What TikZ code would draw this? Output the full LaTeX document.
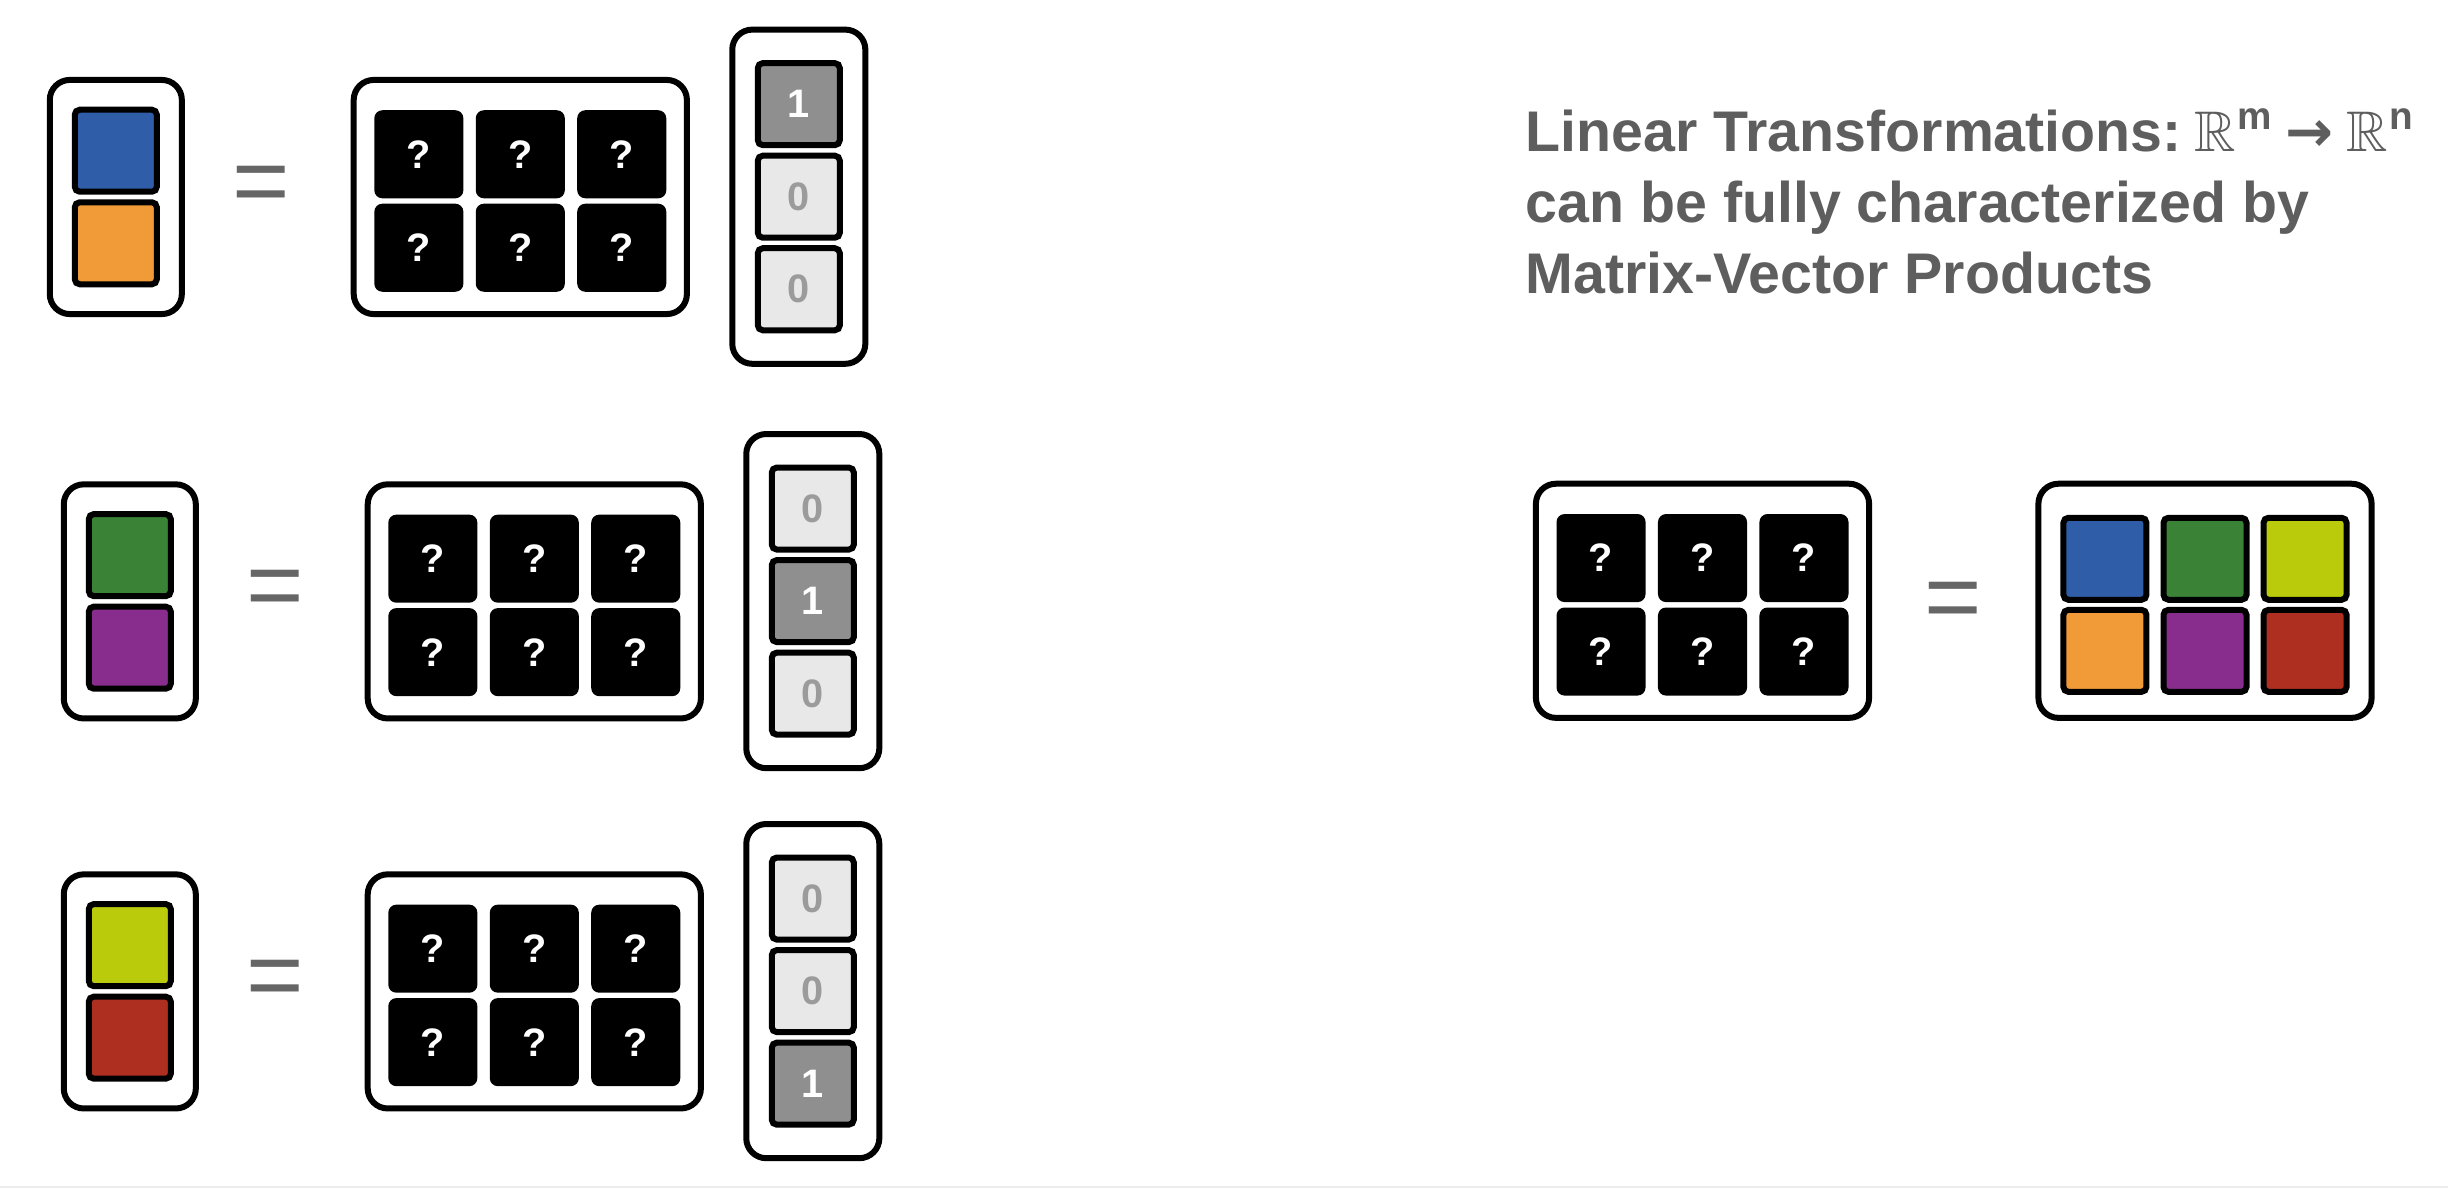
\documentclass[tikz,border=0pt]{standalone}
\usepackage{fontspec}
\usepackage{amssymb}
\setmainfont{Liberation Sans}
\newfontfamily\arrowfont{DejaVu Sans}
\usetikzlibrary{positioning}

\definecolor{cblue}{HTML}{2F5DA8}
\definecolor{corange}{HTML}{F09A38}
\definecolor{cgreen}{HTML}{3A8336}
\definecolor{cpurple}{HTML}{882D8E}
\definecolor{clime}{HTML}{BACB0C}
\definecolor{cred}{HTML}{AE2F1F}
\definecolor{onegray}{HTML}{8F8F8F}
\definecolor{zerogray}{HTML}{E8E8E8}
\definecolor{zerotext}{HTML}{9B9B9B}
\definecolor{eqgray}{HTML}{666666}
\definecolor{titlegray}{HTML}{5E5E5E}
\definecolor{rulegray}{HTML}{ECECEC}

\newcommand{\spacesup}[1]{\raisebox{6.2pt}{\fontsize{11}{11}\selectfont #1}}

\begin{document}
\begin{tikzpicture}[
      x=0.01cm, y=-0.01cm,
      frame/.style={draw,line width=0.06cm,rounded corners=0.2cm,fill=white},
      vecframe/.style={frame,minimum width=1.32cm,minimum height=2.34cm},
      matframe/.style={frame,minimum width=3.33cm,minimum height=2.34cm},
      unitframe/.style={frame,minimum width=1.33cm,minimum height=3.34cm},
      cellfont/.style={font=\fontsize{11.3}{12}\selectfont\bfseries},
      qcell/.style={cellfont,fill=black,rounded corners=0.08cm,minimum width=0.89cm,minimum height=0.88cm,inner sep=0pt,text=white},
      colcell/.style={draw,line width=0.06cm,rounded corners=0.05cm,minimum width=0.82cm,minimum height=0.82cm,inner sep=0pt,fill=#1},
      onecell/.style={colcell=onegray,cellfont,text=white},
      zerocell/.style={colcell=zerogray,cellfont,text=zerotext},
      equal/.style={text=eqgray,font=\fontsize{28}{28}\selectfont,inner sep=0pt},
      node distance=0.045cm]
      \path[fill=white,use as bounding box] (0,0) rectangle (2448,1188);

      % Row 1
      \node[vecframe]                                       (vec1)  at (115.8,197) {};
      \node[colcell=cblue,above=0.0225cm of vec1.center]    (vec1a) {};
      \node[colcell=corange,below=0.0225cm of vec1.center]  (vec1b) {};
      \node[equal]                                          (eq1)   at (261,190) {=};
      \node[matframe]                                       (mat1)  at (520.3,197) {};
      \node[qcell,above=0.02cm of mat1.center,yshift=-0.04cm] (mat1b) {?};
      \node[qcell,left=0.11cm of mat1b]                     (mat1a) {?};
      \node[qcell,right=0.11cm of mat1b]                    (mat1c) {?};
      \node[qcell,below=0.04cm of mat1b]                    (mat1e) {?};
      \node[qcell,left=0.11cm of mat1e]                     (mat1d) {?};
      \node[qcell,right=0.11cm of mat1e]                    (mat1f) {?};
      \node[unitframe]                                      (unit1) at (798.8,196.7) {};
      \node[zerocell]                                       (unit1b) at (unit1) {0};
      \node[onecell,above=of unit1b]                        (unit1a) {1};
      \node[zerocell,below=of unit1b]                       (unit1c) {0};

      % Row 2
      \node[vecframe]                                       (vec2)  at (129.8,601.4) {};
      \node[colcell=cgreen,above=0.0225cm of vec2.center]   (vec2a) {};
      \node[colcell=cpurple,below=0.0225cm of vec2.center]  (vec2b) {};
      \node[equal]                                          (eq2)   at (275,594.5) {=};
      \node[matframe]                                       (mat2)  at (534.3,601.4) {};
      \node[qcell,above=0.02cm of mat2.center,yshift=-0.04cm] (mat2b) {?};
      \node[qcell,left=0.11cm of mat2b]                     (mat2a) {?};
      \node[qcell,right=0.11cm of mat2b]                    (mat2c) {?};
      \node[qcell,below=0.04cm of mat2b]                    (mat2e) {?};
      \node[qcell,left=0.11cm of mat2e]                     (mat2d) {?};
      \node[qcell,right=0.11cm of mat2e]                    (mat2f) {?};
      \node[unitframe]                                      (unit2) at (812.8,601.1) {};
      \node[onecell]                                        (unit2b) at (unit2) {1};
      \node[zerocell,above=of unit2b]                       (unit2a) {0};
      \node[zerocell,below=of unit2b]                       (unit2c) {0};

      % Row 3
      \node[vecframe]                                       (vec3)  at (129.8,991.4) {};
      \node[colcell=clime,above=0.0225cm of vec3.center]    (vec3a) {};
      \node[colcell=cred,below=0.0225cm of vec3.center]     (vec3b) {};
      \node[equal]                                          (eq3)   at (275,984.5) {=};
      \node[matframe]                                       (mat3)  at (534.3,991.4) {};
      \node[qcell,above=0.02cm of mat3.center,yshift=-0.04cm] (mat3b) {?};
      \node[qcell,left=0.11cm of mat3b]                     (mat3a) {?};
      \node[qcell,right=0.11cm of mat3b]                    (mat3c) {?};
      \node[qcell,below=0.04cm of mat3b]                    (mat3e) {?};
      \node[qcell,left=0.11cm of mat3e]                     (mat3d) {?};
      \node[qcell,right=0.11cm of mat3e]                    (mat3f) {?};
      \node[unitframe]                                      (unit3) at (812.8,991.1) {};
      \node[zerocell]                                       (unit3b) at (unit3) {0};
      \node[zerocell,above=of unit3b]                       (unit3a) {0};
      \node[onecell,below=of unit3b]                        (unit3c) {1};

      % Title (base = last line)
      \node[anchor=base west,align=left,inner sep=0pt,text=titlegray,
            font=\fontsize{16.3}{20.2}\selectfont\bfseries] (title) at (1525,293.3)
            {Linear Transformations:\hspace{3.5pt}$\mathbb{R}$\kern0.5pt\spacesup{m}\hspace{4pt}{\arrowfont\bfseries →}\hspace{3.5pt}$\mathbb{R}$\kern0.5pt\spacesup{n}\\
             can be fully characterized by\\
             Matrix-Vector Products};

      % Full matrix
      \node[matframe]                                       (mat4)  at (1702.5,600.8) {};
      \node[qcell,above=0.02cm of mat4.center,yshift=-0.04cm] (mat4b) {?};
      \node[qcell,left=0.11cm of mat4b]                     (mat4a) {?};
      \node[qcell,right=0.11cm of mat4b]                    (mat4c) {?};
      \node[qcell,below=0.04cm of mat4b]                    (mat4e) {?};
      \node[qcell,left=0.11cm of mat4e]                     (mat4d) {?};
      \node[qcell,right=0.11cm of mat4e]                    (mat4f) {?};
      \node[equal]                                          (eq4)   at (1953.5,606.4) {=};
      \node[matframe]                                       (res)   at (2205,600.8) {};
      \node[colcell=cgreen,minimum width=0.83cm,above=0.02cm of res.center,yshift=-0.04cm] (resb) {};
      \node[colcell=cblue,minimum width=0.83cm,left=0.11cm of resb]    (resa) {};
      \node[colcell=clime,minimum width=0.83cm,right=0.11cm of resb]   (resc) {};
      \node[colcell=cpurple,minimum width=0.83cm,below=0.04cm of resb] (rese) {};
      \node[colcell=corange,minimum width=0.83cm,left=0.11cm of rese]  (resd) {};
      \node[colcell=cred,minimum width=0.83cm,right=0.11cm of rese]    (resf) {};

      \draw[rulegray,line width=0.025cm] (0,1186.8) -- (2448,1186.8);
    \end{tikzpicture}
\end{document}
